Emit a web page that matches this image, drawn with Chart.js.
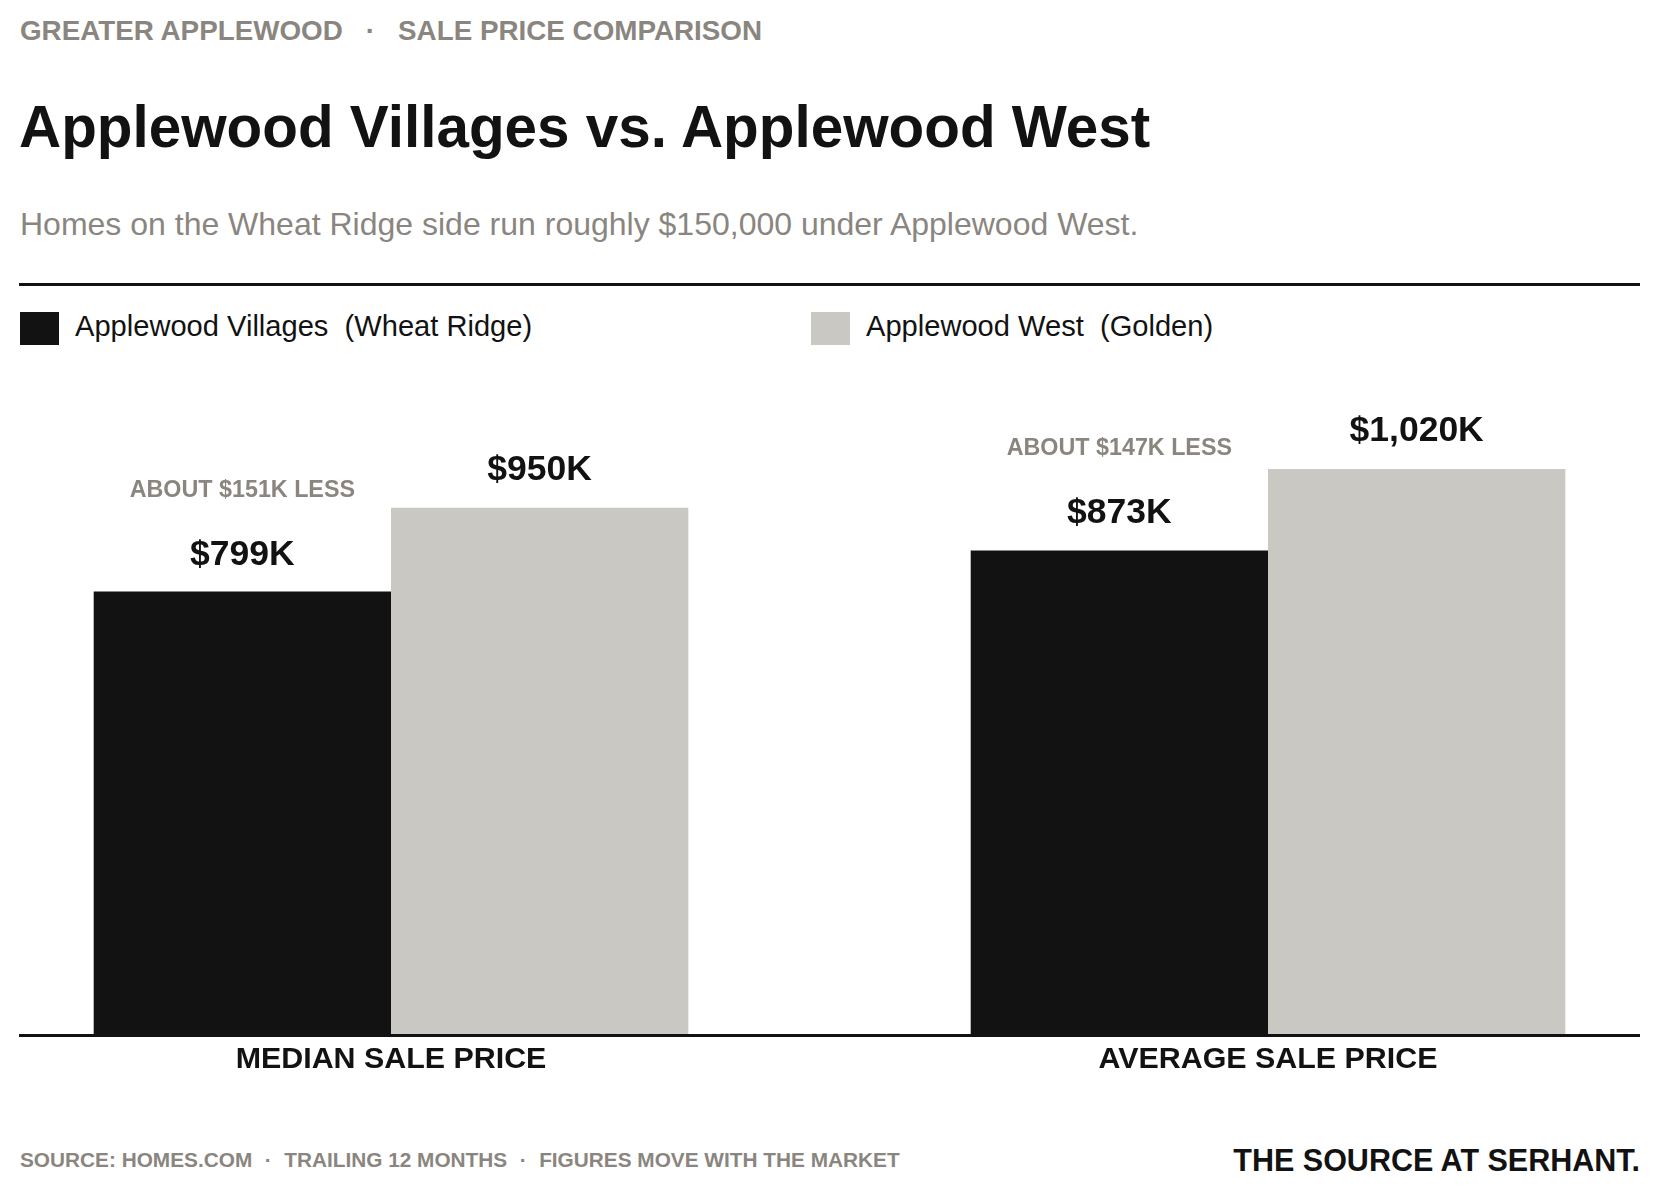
<!DOCTYPE html>
<html lang="en">
<head>
<meta charset="UTF-8">
<title>Applewood Villages vs. Applewood West</title>
<script src="https://cdn.jsdelivr.net/npm/chart.js"></script>
<style>
    body {
        margin: 0;
        width: 1659px;
        height: 1197px;
        background: #fff;
        font-family: "Liberation Sans", Arial, sans-serif;
        position: relative;
        overflow: hidden;
    }
    .abs { position: absolute; line-height: 1; white-space: pre; }
    .kicker { left: 20px; top: 17px; font-size: 27.8px; font-weight: bold; color: #8a867f; }
    .kicker .sep { margin: 0 23px; }
    .title { left: 19px; top: 98px; font-size: 58.4px; font-weight: bold; color: #121212; }
    .subtitle { left: 20px; top: 208px; font-size: 32px; color: #8a867f; }
    .rule { position: absolute; left: 19px; top: 283px; width: 1621px; height: 3px; background: #121212; }
    .swatch { position: absolute; top: 312px; width: 39px; height: 33px; }
    .legend-text { top: 312px; font-size: 29.1px; color: #121212; }
    .foot-left { left: 20px; top: 1150px; font-size: 20.8px; font-weight: bold; color: #8a867f; }
    .foot-left .sep { margin: 0 12.5px; }
    .foot-right { right: 19px; top: 1145px; font-size: 30.5px; font-weight: bold; color: #121212; }
    #chartBox { position: absolute; left: 0; top: 360px; width: 1659px; height: 730px; }
</style>
</head>
<body>

<div class="abs kicker">GREATER APPLEWOOD<span class="sep">·</span>SALE PRICE COMPARISON</div>
<div class="abs title">Applewood Villages vs. Applewood West</div>
<div class="abs subtitle">Homes on the Wheat Ridge side run roughly $150,000 under Applewood West.</div>
<div class="rule"></div>

<div class="swatch" style="left:20px; background:#121212;"></div>
<div class="abs legend-text" style="left:75px;">Applewood Villages  (Wheat Ridge)</div>
<div class="swatch" style="left:811px; background:#c9c8c3;"></div>
<div class="abs legend-text" style="left:866px;">Applewood West  (Golden)</div>

<div id="chartBox"><canvas id="priceChart" width="1659" height="730"></canvas></div>

<div class="abs foot-left">SOURCE: HOMES.COM<span class="sep">·</span>TRAILING 12 MONTHS<span class="sep">·</span>FIGURES MOVE WITH THE MARKET</div>
<div class="abs foot-right">THE SOURCE AT SERHANT.</div>

<script>
// data, in thousands of dollars
const categories = ['MEDIAN SALE PRICE', 'AVERAGE SALE PRICE'];
const villagesPrice = [799, 873];
const westPrice = [950, 1020];
const gapNotes = ['ABOUT $151K LESS', 'ABOUT $147K LESS'];
const yMax = 1200;

const FONT = '"Liberation Sans", Arial, sans-serif';
const INK = '#121212';
const STONE = '#c9c8c3';
const MUTED = '#8a867f';

const fmtK = v => '$' + v.toLocaleString('en-US') + 'K';

// value labels, gap notes and the full-width baseline
const labelPlugin = {
    id: 'barLabels',
    afterDatasetsDraw(chart) {
        const ctx = chart.ctx;
        const villages = chart.getDatasetMeta(0).data;
        const west = chart.getDatasetMeta(1).data;
        ctx.save();
        ctx.textAlign = 'center';
        ctx.textBaseline = 'alphabetic';

        ctx.fillStyle = INK;
        ctx.font = 'bold 35.5px ' + FONT;
        villages.forEach((bar, i) => ctx.fillText(fmtK(villagesPrice[i]), bar.x, bar.y - 27));
        west.forEach((bar, i) => ctx.fillText(fmtK(westPrice[i]), bar.x, bar.y - 28));

        ctx.fillStyle = MUTED;
        ctx.font = 'bold 23.3px ' + FONT;
        villages.forEach((bar, i) => ctx.fillText(gapNotes[i], bar.x, bar.y - 95));

        const y0 = chart.scales.y.getPixelForValue(0);
        ctx.fillStyle = INK;
        ctx.fillRect(19, y0 - 1, 1621, 3);
        ctx.restore();
    }
};

new Chart(document.getElementById('priceChart'), {
    type: 'bar',
    data: {
        labels: categories,
        datasets: [
            {
                label: 'Applewood Villages (Wheat Ridge)',
                data: villagesPrice,
                backgroundColor: INK,
                barPercentage: 1,
                categoryPercentage: 0.678,
                clip: false
            },
            {
                label: 'Applewood West (Golden)',
                data: westPrice,
                backgroundColor: STONE,
                barPercentage: 1,
                categoryPercentage: 0.678,
                clip: false
            }
        ]
    },
    options: {
        responsive: false,
        animation: false,
        devicePixelRatio: 1,
        layout: { padding: { left: 391, right: 391, top: 9, bottom: 0 } },
        plugins: {
            legend: { display: false },
            tooltip: { enabled: false }
        },
        scales: {
            x: {
                offset: false,
                grid: { display: false, drawTicks: false },
                border: { display: false },
                ticks: {
                    color: INK,
                    font: { family: FONT, size: 30.4, weight: 'bold' },
                    padding: 6,
                    maxRotation: 0,
                    autoSkip: false
                },
                afterFit: scale => { scale.height = 55; }
            },
            y: {
                display: false,
                min: 0,
                max: yMax
            }
        }
    },
    plugins: [labelPlugin]
});
</script>
</body>
</html>
